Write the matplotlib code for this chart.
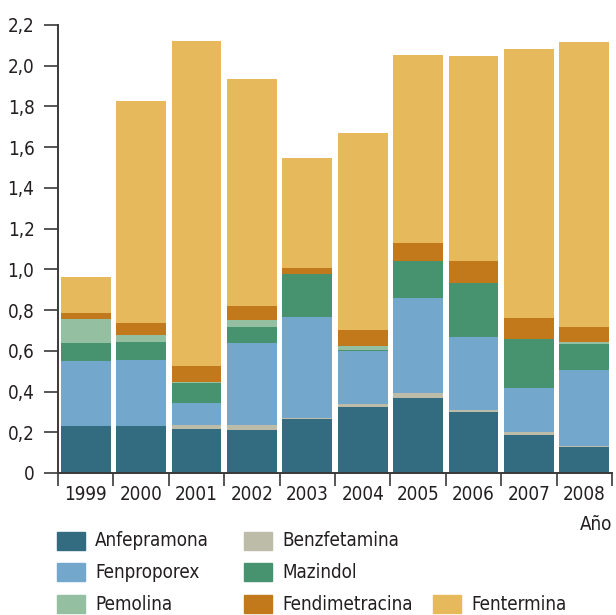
import matplotlib
matplotlib.use("Agg")
import matplotlib.pyplot as plt
from matplotlib import font_manager
from matplotlib.patches import Rectangle
import numpy as np

# ---------------- data ----------------
years = ["1999", "2000", "2001", "2002", "2003", "2004", "2005", "2006", "2007", "2008"]
anfepramona    = [0.229, 0.232, 0.218, 0.213, 0.263, 0.326, 0.370, 0.301, 0.188, 0.129]
benzfetamina   = [0.000, 0.000, 0.020, 0.024, 0.005, 0.014, 0.021, 0.010, 0.015, 0.005]
fenproporex    = [0.323, 0.325, 0.108, 0.403, 0.500, 0.259, 0.470, 0.358, 0.216, 0.373]
mazindol       = [0.088, 0.088, 0.095, 0.079, 0.211, 0.005, 0.178, 0.262, 0.237, 0.128]
pemolina       = [0.118, 0.034, 0.005, 0.034, 0.000, 0.022, 0.000, 0.000, 0.000, 0.010]
fendimetracina = [0.030, 0.059, 0.077, 0.069, 0.029, 0.074, 0.092, 0.112, 0.107, 0.074]
fentermina     = [0.173, 1.091, 1.596, 1.114, 0.541, 0.968, 0.924, 1.007, 1.321, 1.399]
yticks = [0.0, 0.2, 0.4, 0.6, 0.8, 1.0, 1.2, 1.4, 1.6, 1.8, 2.0, 2.2]
ytick_labels = ["0", "0,2", "0,4", "0,6", "0,8", "1,0", "1,2", "1,4", "1,6", "1,8", "2,0", "2,2"]

series = [
    ("Anfepramona", anfepramona, "#336b80"),
    ("Benzfetamina", benzfetamina, "#bdbca8"),
    ("Fenproporex", fenproporex, "#74a7cc"),
    ("Mazindol", mazindol, "#47926f"),
    ("Pemolina", pemolina, "#94bfa0"),
    ("Fendimetracina", fendimetracina, "#c1791c"),
    ("Fentermina", fentermina, "#e6b95d"),
]

# ---------------- font ----------------
names = {f.name for f in font_manager.fontManager.ttflist}
cond = [f for f in font_manager.fontManager.ttflist if f.stretch in ("condensed", "semi-condensed", 'semi-expanded') or 'Narrow' in f.name or 'Condensed' in f.name]
family = "DejaVu Sans"
stretch = "normal"
if "Liberation Sans Narrow" in names:
    family = "Liberation Sans Narrow"
elif any(f.name == "DejaVu Sans" and f.stretch == "condensed" for f in font_manager.fontManager.ttflist):
    family = "DejaVu Sans"
    stretch = "condensed"
else:
    family = "Roboto"
plt.rcParams["font.family"] = [family, "DejaVu Sans"]
plt.rcParams["font.stretch"] = stretch

TEXT = "#231f20"
SPINE = "#3a3a3a"
FS = 13.5

fig = plt.figure(figsize=(6.16, 6.15), dpi=100)
ax = fig.add_axes([58 / 616, 1 - 473 / 615, (612 - 58) / 616, 448 / 615])

x = np.arange(len(years))
bottom = np.zeros(len(years))
for name, vals, col in series:
    v = np.array(vals)
    ax.bar(x, v, width=0.9, bottom=bottom, color=col, label=name, linewidth=0)
    bottom += v

ax.set_xlim(-0.5, len(years) - 0.5)
ax.set_ylim(0, 2.2)
ax.set_yticks(yticks)
ax.set_yticklabels(ytick_labels, fontsize=FS, color=TEXT)
ax.set_xticks(x)
ax.set_xticklabels(years, fontsize=FS, color=TEXT)
ax.set_xticks(np.arange(len(years) + 1) - 0.5, minor=True)
ax.tick_params(axis="x", which="major", length=0, pad=9)
ax.tick_params(axis="x", which="minor", length=9, width=1.2, color=SPINE, direction="out")
ax.tick_params(axis="y", which="major", length=10, width=1.2, color=SPINE, direction="out", pad=7)
for s in ("top", "right"):
    ax.spines[s].set_visible(False)
for s in ("left", "bottom"):
    ax.spines[s].set_color(SPINE)
    ax.spines[s].set_linewidth(1.4)

fig.text(612 / 616, 1 - 524 / 615, "Año", ha="right", va="center", fontsize=FS, color=TEXT)

# legend (manual layout, 3 rows)
legend_layout = [
    ("Anfepramona", "#336b80", 57, 541),
    ("Fenproporex", "#74a7cc", 57, 572),
    ("Pemolina", "#94bfa0", 57, 604),
    ("Benzfetamina", "#bdbca8", 244, 541),
    ("Mazindol", "#47926f", 244, 572),
    ("Fendimetracina", "#c1791c", 244, 604),
    ("Fentermina", "#e6b95d", 433, 604),
]
for name, col, px, py in legend_layout:
    fig.patches.append(Rectangle((px / 616, 1 - (py + 9) / 615), 28 / 616, 18 / 615,
                                 transform=fig.transFigure, color=col, figure=fig))
    fig.text((px + 38) / 616, 1 - py / 615, name, ha="left", va="center", fontsize=FS, color=TEXT)

fig.savefig("out.png", dpi=100)
